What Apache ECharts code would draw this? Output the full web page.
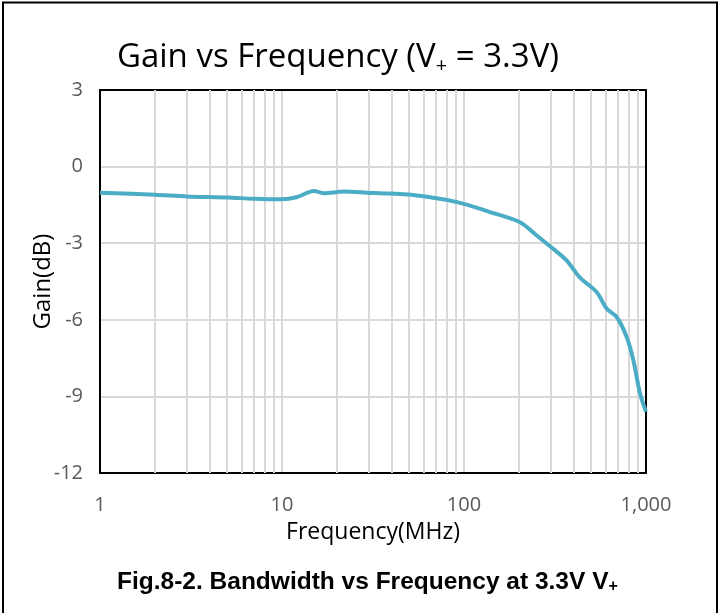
<!DOCTYPE html>
<html>
<head>
    <meta charset="utf-8">
    <title>Gain vs Frequency</title>
    <script src="https://cdn.jsdelivr.net/npm/echarts@6/dist/echarts.min.js"></script>
    <style>
        html, body { margin: 0; padding: 0; background: #fff; }
        #chart { width: 722px; height: 613px; }
    </style>
</head>
<body>
<div id="chart"></div>
<script type="text/javascript">
    // frequency (MHz) and gain (dB)
    var freq = [1, 2, 3, 5, 7, 10, 12, 15, 17, 22, 30, 34.5, 52.5, 91.7, 139, 203, 251, 309, 366, 434, 535, 608, 690, 783, 852, 926, 1000];
    var gain = [-1.02, -1.1, -1.17, -1.21, -1.26, -1.28, -1.2, -0.96, -1.04, -0.98, -1.03, -1.04, -1.11, -1.39, -1.78, -2.18, -2.7, -3.22, -3.67, -4.35, -4.91, -5.56, -5.89, -6.67, -7.58, -8.87, -9.6];
    var yTicks = [-12, -9, -6, -3, 0, 3];
    var xTicks = [1, 10, 100, 1000];
    // minor vertical grid lines of the log axis
    var minorFreq = [2, 3, 4, 5, 6, 7, 8, 9, 20, 30, 40, 50, 60, 70, 80, 90, 200, 300, 400, 500, 600, 700, 800, 900];

    var points = freq.map(function (f, i) { return [f, gain[i]]; });

    var frameAxis = {
        show: true,
        axisLine: { show: true, onZero: false, lineStyle: { color: '#000', width: 2 } },
        axisTick: { show: false },
        axisLabel: { show: false },
        splitLine: { show: false }
    };

    var myChart = echarts.init(document.getElementById('chart'));
    var option = {
        animation: false,
        title: {
            text: '{t|Gain vs Frequency (V}{s|+}{t| = 3.3V)}',
            left: 333,
            textAlign: 'center',
            top: 35,
            textStyle: {
                fontWeight: 'normal',
                rich: {
                    t: { fontFamily: 'Open Sans', fontWeight: 'normal', fontSize: 33, color: '#000' },
                    s: { fontFamily: 'Open Sans', fontWeight: 'normal', fontSize: 20, color: '#000', verticalAlign: 'bottom', padding: [16, 0, 0, 0] }
                }
            }
        },
        grid: {
            left: 100,
            right: 76,
            top: 90,
            bottom: 140
        },
        xAxis: [{
            type: 'log',
            logBase: 10,
            min: 1,
            max: 1000,
            name: 'Frequency(MHz)',
            nameLocation: 'middle',
            nameGap: 48,
            nameTextStyle: { fontFamily: 'Open Sans', fontSize: 23, color: '#000' },
            axisLine: { show: true, onZero: false, lineStyle: { color: '#000', width: 2 } },
            axisTick: { show: false },
            axisLabel: {
                margin: 22,
                fontFamily: 'Open Sans',
                fontSize: 20,
                color: '#595959',
                formatter: function (v) {
                    return xTicks.indexOf(v) >= 0 ? v.toLocaleString('en-US') : '';
                }
            },
            splitLine: { show: true, lineStyle: { color: '#d9d9d9', width: 2 } }
        }, Object.assign({ type: 'log', min: 1, max: 1000, position: 'top' }, frameAxis)],
        yAxis: [{
            type: 'value',
            min: -12,
            max: 3,
            interval: 3,
            name: 'Gain(dB)',
            nameLocation: 'middle',
            nameGap: 45,
            nameMoveOverlap: false,
            nameRotate: 90,
            nameTextStyle: { fontFamily: 'Open Sans', fontSize: 24, color: '#000' },
            axisLine: { show: true, onZero: false, lineStyle: { color: '#000', width: 2 } },
            axisTick: { show: false },
            axisLabel: {
                margin: 17,
                fontFamily: 'Open Sans',
                fontSize: 20,
                color: '#595959',
                formatter: function (v) { return yTicks.indexOf(v) >= 0 ? String(v) : ''; }
            },
            splitLine: { show: true, lineStyle: { color: '#d9d9d9', width: 2 } }
        }, Object.assign({ type: 'value', min: -12, max: 3, interval: 3, position: 'right' }, frameAxis)],
        graphic: [
            {
                type: 'polyline',
                shape: { points: [[3, 613], [3, 2.5], [717, 2.5], [717, 613]] },
                style: { stroke: '#000', lineWidth: 2, fill: null },
                z: 100
            },
            {
                type: 'text',
                left: 117,
                top: 570,
                style: {
                    text: '{b|Fig.8-2. Bandwidth vs Frequency at 3.3V V}{s|+}',
                    rich: {
                        b: { fontFamily: 'Liberation Sans', fontWeight: 'bold', fontSize: 24.5, fill: '#000' },
                        s: { fontFamily: 'Liberation Sans', fontWeight: 'bold', fontSize: 16, fill: '#000', padding: [8, 0, 0, 0] }
                    }
                }
            }
        ],
        series: [
            {
                type: 'line',
                data: points,
                smooth: 0.3,
                showSymbol: false,
                lineStyle: { color: '#4BACC6', width: 4 },
                z: 5,
                markLine: {
                    silent: true,
                    symbol: 'none',
                    label: { show: false },
                    lineStyle: { color: '#d9d9d9', width: 2, type: 'solid' },
                    z: 1,
                    data: minorFreq.map(function (f) { return { xAxis: f }; })
                }
            }
        ]
    };
    myChart.setOption(option);
</script>
</body>
</html>
